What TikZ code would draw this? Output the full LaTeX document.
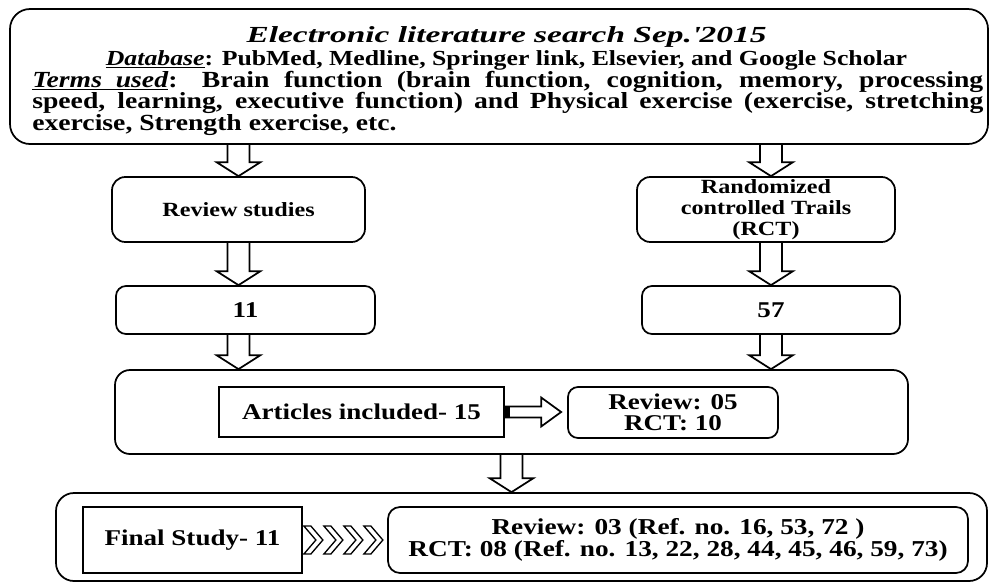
\documentclass[tikz,border=0pt]{standalone}
\usepackage{fontspec}
\usepackage{graphicx}
\setmainfont{Liberation Serif}[FakeStretch=1.2]
\usetikzlibrary{calc}
\newcommand\fs[2]{\fontsize{#1}{#2}\selectfont}
\newcommand\vblk[2]{\draw[blk] let \p1=#1, \p2=#2 in
  (\x1-8.25pt,\y1) -- (\x1-8.25pt,\y2+10.5pt) -- (\x1-16.5pt,\y2+10.5pt) -- (\x1,\y2)
  -- (\x1+16.5pt,\y2+10.5pt) -- (\x1+8.25pt,\y2+10.5pt) -- (\x1+8.25pt,\y1);}
\tikzset{
  bx/.style={draw, line width=1.3pt, inner sep=0pt, align=center, font=\bfseries},
  rbx/.style={bx, rounded corners=#1},
  rbx/.default=7.5pt,
  blk/.style={draw, line width=1.3pt, line join=miter},
  chev/.style={draw, line width=1pt, line join=miter},
}
\begin{document}
\begin{tikzpicture}[x=0.75pt,y=-0.75pt]
\useasboundingbox (0,0) rectangle (992,583);
% top box
\node[rbx=15pt, minimum width=733.5pt, minimum height=101.25pt] (top) at (499,76.5) {};
\node[anchor=base, inner sep=0pt, font=\bfseries\itshape\fs{17.25}{20}] (title) at (506.5,42)
  {\scalebox{1.21}[1]{Electronic literature search Sep.\textquotesingle2015}};
\node[anchor=base, inner sep=0pt, font=\bfseries\fs{16.1}{20}] (db) at (506.5,65)
  {\underline{\textit{Database}}: PubMed, Medline, Springer link, Elsevier, and Google Scholar};
\node[anchor=base west, inner sep=0pt, font=\bfseries\fs{17.3}{20}] (tm1) at (32,87)
  {\makebox[713.25pt][s]{\underline{\textit{Terms\ \ used}}: Brain function (brain function, cognition, memory, processing}};
\node[anchor=base west, inner sep=0pt, font=\bfseries\fs{17.3}{20}] (tm2) at (32,108)
  {\makebox[713.25pt][s]{speed, learning, executive function) and Physical exercise (exercise, stretching}};
\node[anchor=base west, inner sep=0pt, font=\bfseries\fs{17.3}{20}] (tm3) at (32,130)
  {exercise, Strength exercise, etc.};
% second row
\node[rbx=10pt, minimum width=189.75pt, minimum height=48.75pt, font=\bfseries\fs{15.1}{15.75}] (rev) at (238.5,209.5) {Review studies};
\node[rbx=10pt, minimum width=193.5pt, minimum height=48.75pt, font=\bfseries\fs{15.1}{15.75}] (rct) at (766,209.5) {Randomized\\controlled Trails\\(RCT)};
% third row
\node[rbx=7.5pt, minimum width=194.25pt, minimum height=36pt, font=\bfseries\fs{16.9}{16}] (n11) at (245.5,310) {11};
\node[rbx=7.5pt, minimum width=193.5pt, minimum height=36pt, font=\bfseries\fs{16.9}{16}] (n57) at (771,310) {57};
% middle
\node[rbx=11.25pt, minimum width=594.75pt, minimum height=63pt] (mid) at (511.5,412) {};
\node[bx, minimum width=213.75pt, minimum height=37.5pt, font=\bfseries\fs{16.9}{16}] (art) at (361.5,412) {Articles included- 15};
\node[rbx=7.5pt, minimum width=157.5pt, minimum height=38.25pt, font=\bfseries\fs{16.9}{15.75}] (r05) at (673,412.5) {Review: 05\\RCT: 10};
\coordinate (hend) at ($(r05.west)+(-6,0)$);
% bottom
\node[rbx=13.5pt, minimum width=698.25pt, minimum height=66pt] (bot) at (521.5,537) {};
\node[bx, minimum width=164.25pt, minimum height=49.5pt, font=\bfseries\fs{16.9}{16}] (fin) at (192.5,540) {Final Study- 11};
\node[rbx=9pt, minimum width=435pt, minimum height=49.5pt, font=\bfseries\fs{17.06}{16.5}] (fref) at (678,540)
  {Review: 03 (Ref. no. 16, 53, 72 )\\RCT: 08 (Ref. no. 13, 22, 28, 44, 45, 46, 59, 73)};
% block arrows
\vblk{(top.south -| rev.north)}{(rev.north)}
\vblk{(top.south -| n57.north)}{(rct.north -| n57.north)}
\vblk{(rev.south)}{(n11.north -| rev.south)}
\vblk{(rct.south -| n57.north)}{(n57.north)}
\vblk{(n11.south -| rev.south)}{(mid.north -| rev.south)}
\vblk{(n57.south)}{(mid.north -| n57.south)}
\vblk{(mid.south)}{(bot.north -| mid.south)}
% horizontal arrow
\draw[blk] let \p1=(art.east), \p2=(hend) in
  (\x1,\y1+4.1pt) -- (\x2-15pt,\y1+4.1pt) -- (\x2-15pt,\y1+10.9pt) -- (\x2,\y1)
  -- (\x2-15pt,\y1-10.9pt) -- (\x2-15pt,\y1-4.1pt) -- (\x1,\y1-4.1pt);
\fill let \p1=(art.east) in (\x1,\y1-4.1pt) rectangle (\x1+4pt,\y1+4.1pt);
% chevrons
\foreach \i in {0,1,2,3}
  \draw[chev] ($(fin.east)+(\i*20+1,-14)$) -- ++(7,0) -- ++(12,14) -- ++(-12,14) -- ++(-7,0) -- ++(12,-14) -- cycle;
\end{tikzpicture}
\end{document}
